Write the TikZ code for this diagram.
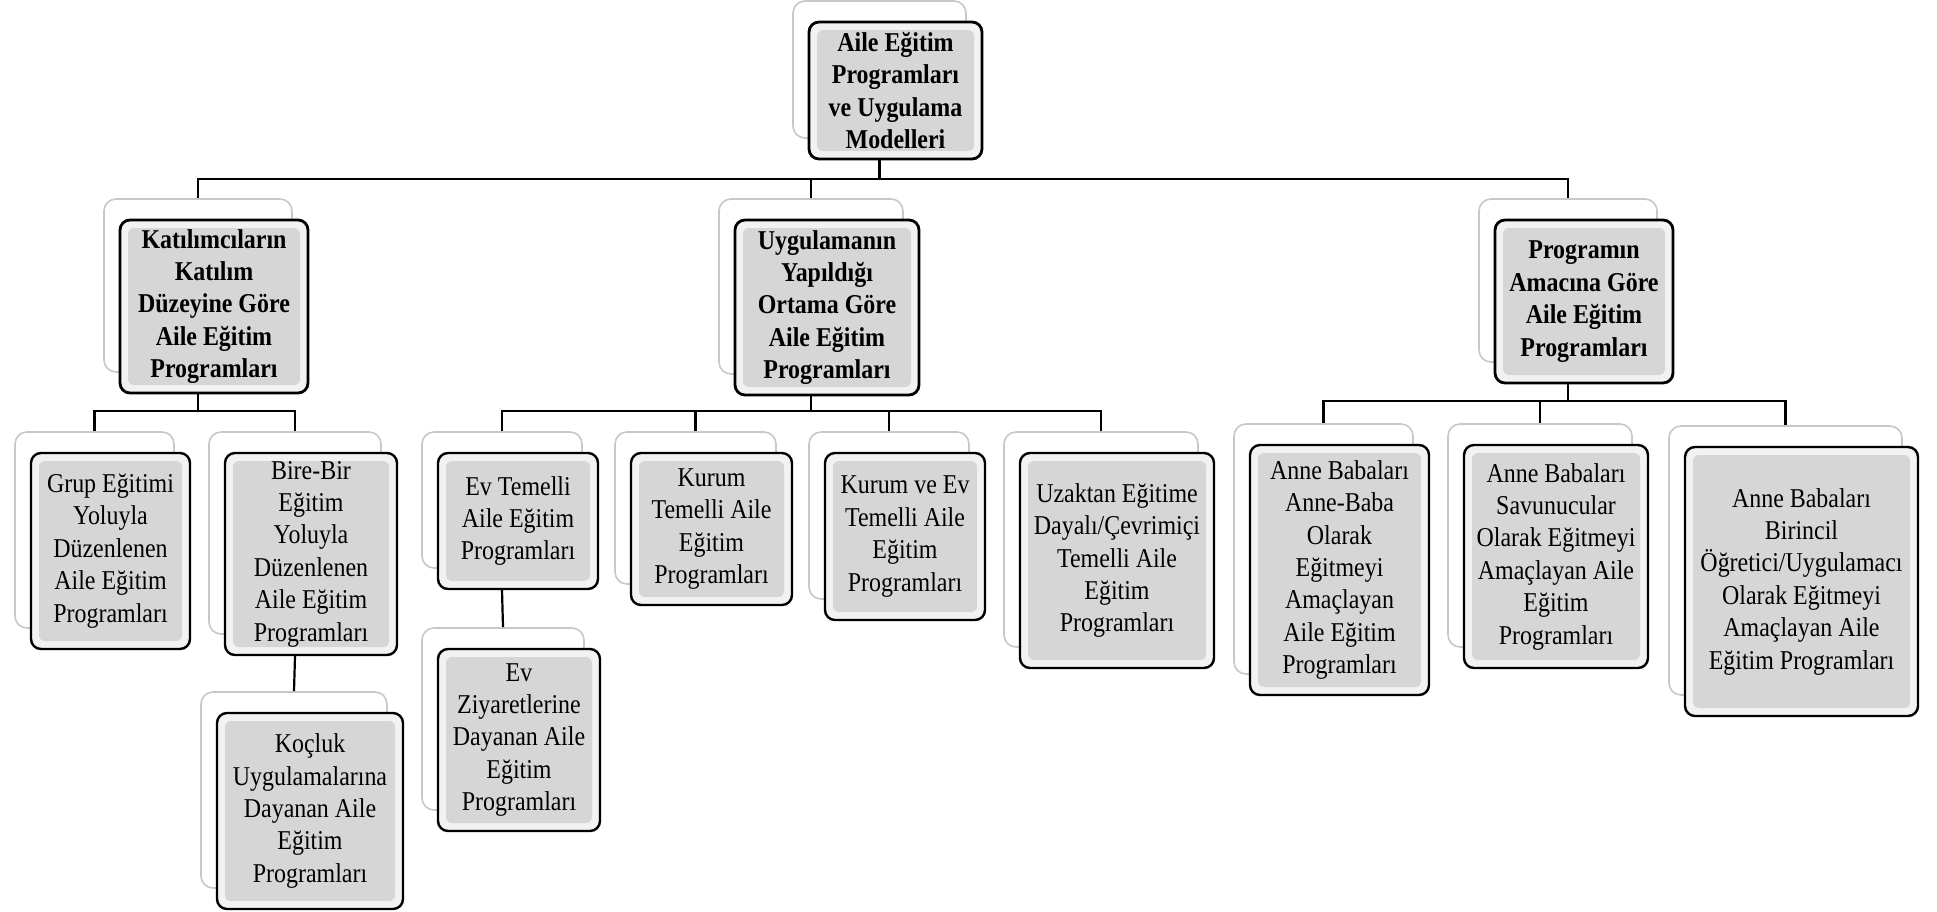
\documentclass[tikz,border=0pt]{standalone}
\usepackage{fontspec}
\setmainfont{Liberation Serif}[FakeStretch=0.88]
\usetikzlibrary{calc}
\definecolor{bevelin}{RGB}{214,214,214}
\definecolor{bevelout}{RGB}{242,242,242}
\definecolor{backedge}{RGB}{200,200,200}
\tikzset{
  frontbox/.style={draw=black, line width=1.2pt, rounded corners=5pt, fill=bevelout,
    align=center, inner sep=0pt, font=\fontsize{13.6}{16.2}\selectfont,
    path picture={\fill[bevelin, rounded corners=3pt]
      ($(path picture bounding box.south west)+(4pt,4pt)$) rectangle
      ($(path picture bounding box.north east)+(-4pt,-4pt)$);}},
  titlebox/.style={frontbox, line width=1.4pt, font=\fontsize{13.6}{16.2}\selectfont\bfseries},
  backbox/.style={draw=backedge, line width=0.8pt, rounded corners=6pt, fill=white, inner sep=0pt},
  conn/.style={draw=black, line width=1.1pt}
}
\newcommand\dbox[7]{%
  \node[backbox, minimum width=#4pt, minimum height=#5pt] (#1b) at ($(#2,#3)+(-16,-21)$) {};
  \node[#6, minimum width=#4pt, minimum height=#5pt] (#1) at (#2,#3) {#7};}
\begin{document}
\begin{tikzpicture}[x=0.5pt, y=-0.5pt]
\useasboundingbox (0,0) rectangle (1937,911);
% root
\dbox{root}{895.5}{90.5}{86.5}{68.5}{titlebox}{Aile Eğitim\\Programları\\ve Uygulama\\Modelleri}
% level 1
\dbox{A}{214}{306.5}{94}{86.5}{titlebox}{Katılımcıların\\Katılım\\Düzeyine Göre\\Aile Eğitim\\Programları}
\dbox{B}{827}{307.5}{92}{87.5}{titlebox}{Uygulamanın\\Yapıldığı\\Ortama Göre\\Aile Eğitim\\Programları}
\dbox{C}{1584}{301.5}{89}{81.5}{titlebox}{Programın\\Amacına Göre\\Aile Eğitim\\Programları}
% level 2 under A
\dbox{Grup}{110.5}{551}{79.5}{98}{frontbox}{Grup Eğitimi\\Yoluyla\\Düzenlenen\\Aile Eğitim\\Programları}
\dbox{Bire}{311}{554}{86}{101}{frontbox}{Bire-Bir\\Eğitim\\Yoluyla\\Düzenlenen\\Aile Eğitim\\Programları}
\dbox{Koc}{310}{811}{93}{98}{frontbox}{Koçluk\\Uygulamalarına\\Dayanan Aile\\Eğitim\\Programları}
% level 2 under B
\dbox{EvT}{518}{521}{80}{68}{frontbox}{Ev Temelli\\Aile Eğitim\\Programları}
\dbox{Kurum}{711.5}{529}{80.5}{76}{frontbox}{Kurum\\Temelli Aile\\Eğitim\\Programları}
\dbox{KurumEv}{905}{536.5}{80}{83.5}{frontbox}{Kurum ve Ev\\Temelli Aile\\Eğitim\\Programları}
\dbox{Uzak}{1117}{560.5}{97}{107.5}{frontbox}{Uzaktan Eğitime\\Dayalı/Çevrimiçi\\Temelli Aile\\Eğitim\\Programları}
\dbox{EvZ}{519}{740}{81}{91}{frontbox}{Ev\\Ziyaretlerine\\Dayanan Aile\\Eğitim\\Programları}
% level 2 under C
\dbox{AB}{1339.5}{570}{89.5}{125}{frontbox}{Anne Babaları\\Anne-Baba\\Olarak\\Eğitmeyi\\Amaçlayan\\Aile Eğitim\\Programları}
\dbox{Sav}{1556}{556.5}{92}{111.5}{frontbox}{Anne Babaları\\Savunucular\\Olarak Eğitmeyi\\Amaçlayan Aile\\Eğitim\\Programları}
\dbox{Bir}{1801.5}{581.5}{116.5}{134.5}{frontbox}{Anne Babaları\\Birincil\\Öğretici/Uygulamacı\\Olarak Eğitmeyi\\Amaçlayan Aile\\Eğitim Programları}
% connectors
\coordinate (bus0) at (0,179);
\coordinate (busA) at (0,411);
\coordinate (busB) at (0,411);
\coordinate (busC) at (0,401);
\foreach \ch in {A,B,C}
  \draw[conn] (rootb.north |- root.south) -- (rootb.north |- bus0) -| (\ch b.north);
\foreach \ch in {Grup,Bire}
  \draw[conn] (Ab.north |- A.south) -- (Ab.north |- busA) -| (\ch b.north);
\foreach \ch in {EvT,Kurum,KurumEv,Uzak}
  \draw[conn] (Bb.north |- B.south) -- (Bb.north |- busB) -| (\ch b.north);
\foreach \ch in {AB,Sav,Bir}
  \draw[conn] (Cb.north |- C.south) -- (Cb.north |- busC) -| (\ch b.north);
\draw[conn] (Bireb.north |- Bire.south) -- (Kocb.north);
\draw[conn] (EvTb.north |- EvT.south) -- (EvZb.north);
\end{tikzpicture}
\end{document}
